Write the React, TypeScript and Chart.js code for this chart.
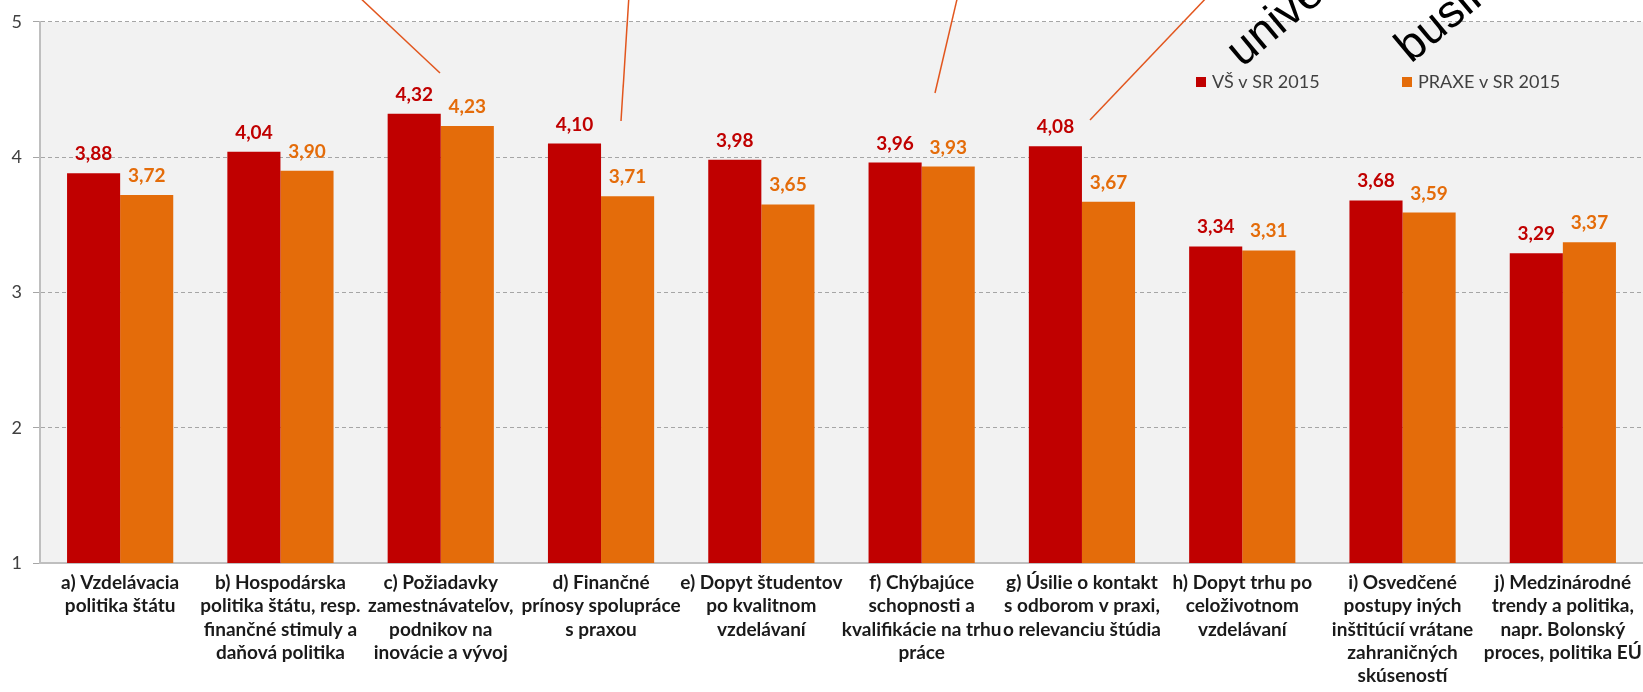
import React, { useEffect, useRef } from "react";
import { Chart, registerables } from "chart.js";

Chart.register(...registerables);

const categories: string[][] = [
  ["a) Vzdelávacia", "politika štátu"],
  ["b) Hospodárska", "politika štátu, resp.", "finančné stimuly a", "daňová politika"],
  ["c) Požiadavky", "zamestnávateľov,", "podnikov na", "inovácie a vývoj"],
  ["d) Finančné", "prínosy spolupráce", "s praxou"],
  ["e) Dopyt študentov", "po kvalitnom", "vzdelávaní"],
  ["f) Chýbajúce", "schopnosti a", "kvalifikácie na trhu", "práce"],
  ["g) Úsilie o kontakt", "s odborom v praxi,", "o relevanciu štúdia"],
  ["h) Dopyt trhu po", "celoživotnom", "vzdelávaní"],
  ["i) Osvedčené", "postupy iných", "inštitúcií vrátane", "zahraničných", "skúseností"],
  ["j) Medzinárodné", "trendy a politika,", "napr. Bolonský", "proces, politika EÚ"],
];
const vsValues = [3.88, 4.04, 4.32, 4.1, 3.98, 3.96, 4.08, 3.34, 3.68, 3.29];
const praxeValues = [3.72, 3.9, 4.23, 3.71, 3.65, 3.93, 3.67, 3.31, 3.59, 3.37];
const seriesNames = ["VŠ v SR 2015", "PRAXE v SR 2015"];
const seriesColors = ["#C00000", "#E46C0A"];
const yMin = 1;
const yMax = 5;
const overlayWords = ["university", "business"];

const FONT = "Lato, 'Liberation Sans', Arial, sans-serif";

const bgPlugin = {
  id: "plotBg",
  beforeDraw(chart: any) {
    const { ctx, chartArea } = chart;
    ctx.save();
    ctx.fillStyle = "#F2F2F2";
    ctx.fillRect(chartArea.left, chartArea.top, chartArea.right - chartArea.left, chartArea.bottom - chartArea.top);
    ctx.restore();
  },
};

const labelPlugin = {
  id: "valueLabels",
  afterDatasetsDraw(chart: any) {
    const { ctx } = chart;
    ctx.save();
    ctx.font = `bold 19px ${FONT}`;
    ctx.textAlign = "center";
    ctx.textBaseline = "alphabetic";
    chart.data.datasets.forEach((ds: any, di: number) => {
      const meta = chart.getDatasetMeta(di);
      ctx.fillStyle = seriesColors[di];
      meta.data.forEach((bar: any, i: number) => {
        const v = ds.data[i] as number;
        ctx.fillText(v.toFixed(2).replace(".", ","), bar.x, bar.y - 13);
      });
    });
    ctx.restore();
  },
};

const overlayPlugin = {
  id: "overlay",
  afterDraw(chart: any) {
    const { ctx } = chart;
    ctx.save();
    // legend
    ctx.font = `18px ${FONT}`;
    ctx.textBaseline = "middle";
    ctx.textAlign = "left";
    const legendX = [1196, 1402];
    seriesNames.forEach((name, i) => {
      ctx.fillStyle = seriesColors[i];
      ctx.fillRect(legendX[i], 77, 10, 10);
      ctx.fillStyle = "#404040";
      ctx.fillText(name, legendX[i] + 16, 82);
    });
    // callout lines
    ctx.strokeStyle = "#E2561E";
    ctx.lineWidth = 1.5;
    const lines = [
      [357, -5, 440, 73],
      [629, -5, 621, 121],
      [958, -5, 935, 93],
      [1209, -5, 1090, 120],
    ];
    lines.forEach(([x1, y1, x2, y2]) => {
      ctx.beginPath();
      ctx.moveTo(x1, y1);
      ctx.lineTo(x2, y2);
      ctx.stroke();
    });
    // rotated overlay words
    ctx.fillStyle = "#000000";
    ctx.font = `46px 'Liberation Sans', Arial, sans-serif`;
    ctx.textBaseline = "alphabetic";
    const origins = [
      [1242, 68],
      [1411, 64],
    ];
    overlayWords.forEach((w, i) => {
      ctx.save();
      ctx.translate(origins[i][0], origins[i][1]);
      ctx.rotate((-40 * Math.PI) / 180);
      ctx.fillText(w, 0, 0);
      ctx.restore();
    });
    ctx.restore();
  },
};

export default function App() {
  const ref = useRef<HTMLCanvasElement | null>(null);
  useEffect(() => {
    if (!ref.current) return;
    const chart = new Chart(ref.current, {
      type: "bar",
      data: {
        labels: categories,
        datasets: [
          {
            label: seriesNames[0],
            data: vsValues,
            backgroundColor: seriesColors[0],
            categoryPercentage: 0.6625,
            barPercentage: 1,
          },
          {
            label: seriesNames[1],
            data: praxeValues,
            backgroundColor: seriesColors[1],
            categoryPercentage: 0.6625,
            barPercentage: 1,
          },
        ],
      },
      options: {
        responsive: false,
        animation: false,
        devicePixelRatio: 1,
        layout: { padding: { top: 19, right: 0, left: 0, bottom: 0 } },
        plugins: {
          legend: { display: false },
          tooltip: { enabled: false },
        },
        scales: {
          x: {
            grid: { display: false, drawTicks: false },
            border: { display: true, color: "#BFBFBF", width: 2 },
            ticks: {
              autoSkip: false,
              maxRotation: 0,
              minRotation: 0,
              padding: 8,
              color: "#1A1A1A",
              font: { family: FONT, size: 19, weight: "bold", lineHeight: 1.23 },
            },
            afterFit: (scale: any) => {
              scale.height = 129;
              scale.paddingLeft = 0;
              scale.paddingRight = 0;
            },
          },
          y: {
            min: yMin,
            max: yMax,
            ticks: {
              stepSize: 1,
              padding: 11,
              color: "#404040",
              font: { family: FONT, size: 18 },
            },
            grid: {
              color: "#A6A6A6",
              lineWidth: 1,
              tickLength: 7,
              tickColor: "#A6A6A6",
            },
            border: { display: true, color: "#BFBFBF", width: 2, dash: [4, 3] },
            afterFit: (scale: any) => {
              scale.width = 40;
            },
          },
        },
      },
      plugins: [bgPlugin, labelPlugin, overlayPlugin],
    } as any);
    return () => chart.destroy();
  }, []);
  return (
    <div style={{ position: "absolute", left: 0, top: 0, width: 1643, height: 692, background: "#fff" }}>
      <canvas ref={ref} width={1643} height={692} style={{ display: "block" }} />
    </div>
  );
}
